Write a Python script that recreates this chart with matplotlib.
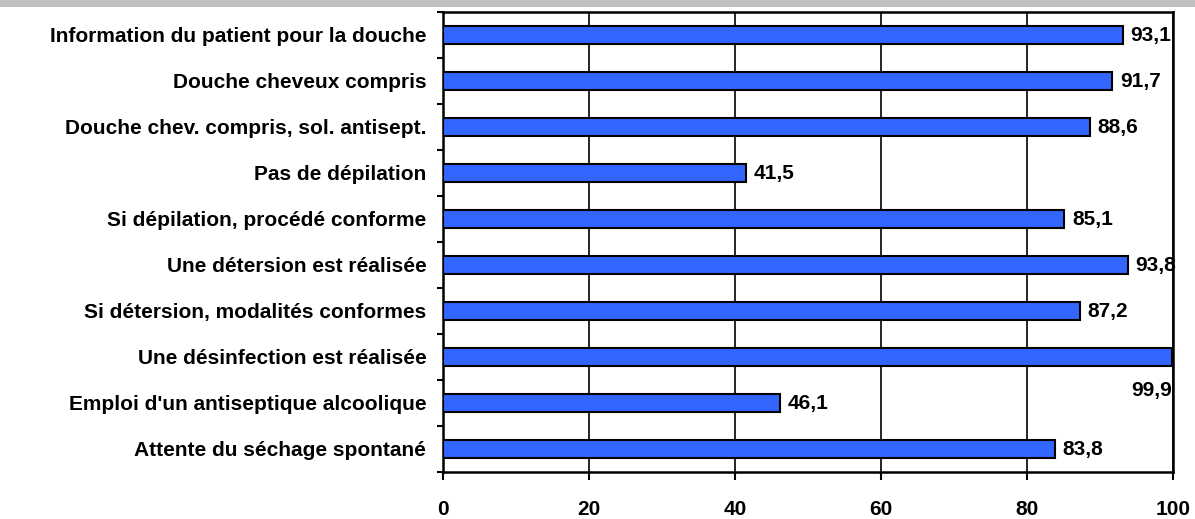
import matplotlib
matplotlib.use("Agg")
import matplotlib.pyplot as plt
from matplotlib.patches import Rectangle

categories = [
    "Information du patient pour la douche",
    "Douche cheveux compris",
    "Douche chev. compris, sol. antisept.",
    "Pas de dépilation",
    "Si dépilation, procédé conforme",
    "Une détersion est réalisée",
    "Si détersion, modalités conformes",
    "Une désinfection est réalisée",
    "Emploi d'un antiseptique alcoolique",
    "Attente du séchage spontané",
]
values = [93.1, 91.7, 88.6, 41.5, 85.1, 93.8, 87.2, 99.9, 46.1, 83.8]
value_labels = ["93,1", "91,7", "88,6", "41,5", "85,1", "93,8", "87,2", "99,9", "46,1", "83,8"]
x_ticks = [0, 20, 40, 60, 80, 100]

plt.rcParams['font.family'] = ['Liberation Sans', 'DejaVu Sans']
plt.rcParams['font.weight'] = 'bold'

W, H = 1195, 519
fig = plt.figure(figsize=(W / 100, H / 100), dpi=100)
fig.patches.append(Rectangle((0, 1 - 7 / H), 1, 7 / H, transform=fig.transFigure,
                             facecolor='#c0c0c0', edgecolor='none', zorder=0))

left, right, top, bottom = 443, 1173, 12, 472
ax = fig.add_axes([left / W, 1 - bottom / H, (right - left) / W, (bottom - top) / H])

n = len(categories)
ypos = list(range(n))
ax.barh(ypos, values, height=0.38, color='#3366ff', edgecolor='black', linewidth=1.5, zorder=3)
ax.set_xlim(0, 100)
ax.set_ylim(n - 0.5, -0.5)

for y, v, lab in zip(ypos, values, value_labels):
    if v > 97:
        # no room at the bar end: put the value under the bar, flush right
        ax.annotate(lab, (100, y), xytext=(-1, -34), textcoords='offset pixels',
                    ha='right', va='center', fontsize=15, fontweight='bold', zorder=4)
    else:
        ax.annotate(lab, (v, y), xytext=(8, -1), textcoords='offset pixels',
                    ha='left', va='center', fontsize=15, fontweight='bold', zorder=4)

ax.set_xticks(x_ticks)
ax.set_xticklabels([str(t) for t in x_ticks], fontsize=15, fontweight='bold')
ax.tick_params(axis='x', direction='out', length=5.8, width=1.5, pad=14.5)
ax.xaxis.grid(True, color='black', linewidth=1.2, zorder=1)

ax.set_yticks(ypos)
ax.set_yticklabels(categories, fontsize=15, fontweight='bold')
ax.tick_params(axis='y', length=0, pad=12)
ax.set_yticks([i - 0.5 for i in range(n + 1)], minor=True)
ax.tick_params(axis='y', which='minor', direction='out', length=4, width=1.5)

for s in ax.spines.values():
    s.set_linewidth(1.8)
    s.set_color('black')

fig.savefig("out.png", dpi=100)
